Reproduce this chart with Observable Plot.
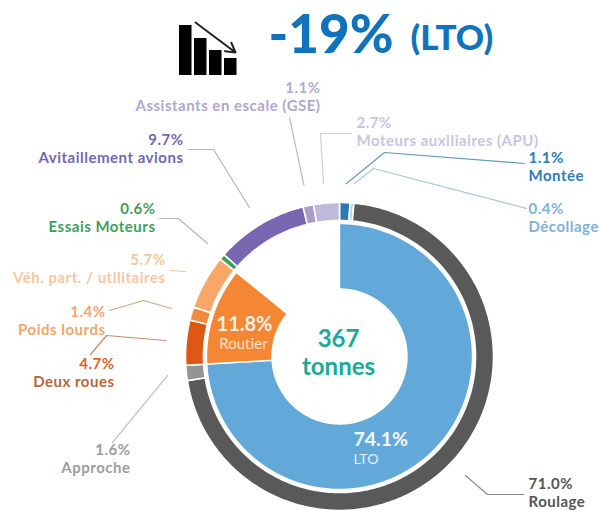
<!DOCTYPE html>
<html>
<head>
<meta charset="utf-8">
<style>html,body{margin:0;padding:0;background:#fff}.lab text{letter-spacing:.5px}</style>
<script src="https://cdn.jsdelivr.net/npm/d3@7"></script>
<script src="https://cdn.jsdelivr.net/npm/@observablehq/plot@0.6"></script>
</head>
<body>
<div id="chart"></div>
<script>
// Outer ring, clockwise from 12 o'clock (% of total)
const outerNames  = ["Montée","Décollage","Roulage","Approche","Deux roues","Poids lourds","Véh. part. / utilitaires","Essais Moteurs","Avitaillement avions","Assistants en escale (GSE)","Moteurs auxiliaires (APU)"];
const outerValues = [1.1,0.4,71.0,1.6,4.7,1.4,5.7,0.6,9.7,1.1,2.7];
const outerColors = ["#2B78B4","#B4D6EC","#595959","#949494","#DD5812","#F08A3C","#F7A768","#3E9F5C","#7766B0","#A79DCB","#BFB9DC"];
// Inner ring
const innerNames  = ["LTO","Routier"];
const innerValues = [74.1,11.8];
const innerColors = ["#62A8D8","#F58634"];
// Icon
const iconBars = [50,37,25,17];

// Layout
const C = {x:339, y:356};
const ringR = [136,154], innerR = [67.5,133];
const polar = (pct,r) => { const a = pct/100*2*Math.PI; return {x:C.x+r*Math.sin(a), y:C.y-r*Math.cos(a)}; };
function slices(names, values, [r0,r1]) {
  const pts = []; let acc = 0;
  names.forEach((name,i) => {
    const a0 = acc, a1 = acc + values[i], n = Math.max(2, Math.ceil(values[i]*3.6));
    for (let k=0;k<=n;k++) pts.push({name, ...polar(a0+(a1-a0)*k/n, r1)});
    for (let k=n;k>=0;k--) pts.push({name, ...polar(a0+(a1-a0)*k/n, r0)});
    acc = a1;
  });
  return pts;
}
// label table: value, name, anchor, x, y(value line), y(name line), colours
const labels = [
  ["1.1%","Assistants en escale (GSE)","end",320,87.5,105.5,"#B0ABD0","#AEA8CF"],
  ["2.7%","Moteurs auxiliaires (APU)","start",356,122.5,140.5,"#C9C5E0","#C9C5E0"],
  ["1.1%","Montée","start",528,158,176,"#2B7DB8","#2B7DB8"],
  ["0.4%","Décollage","start",528,208.5,226.5,"#7FB2D9","#7FB2D9"],
  ["9.7%","Avitaillement avions","end",183,139.5,157.5,"#7468AE","#7468AE"],
  ["0.6%","Essais Moteurs","end",155,208.5,226.5,"#3E9F5C","#3E9F5C"],
  ["5.7%","Véh. part. / utilitaires","end",165,260,278,"#F6C79F","#F6C79F"],
  ["1.4%","Poids lourds","end",105,312,330,"#F3A56E","#F3A56E"],
  ["4.7%","Deux roues","end",114,364,382,"#D9622B","#B5673A"],
  ["1.6%","Approche","end",130,450,468,"#9C9C9C","#9C9C9C"],
  ["71.0%","Roulage","start",528,484,502,"#555555","#555555"]
].flatMap(([v,n,anchor,x,y1,y2,c1,c2]) => [{t:v,anchor,x,y:y1,c:c1},{t:n,anchor,x,y:y2,c:c2}]);

const leaders = [
  {c:"#BDBDBD",p:[[289,117],[303.5,185]]},
  {c:"#CFCFCF",p:[[351,133],[320,133],[323,183]]},
  {c:"#5D9DB8",p:[[524,163],[384,152],[346,183]]},
  {c:"#A4C6D8",p:[[526,208],[373,168],[354,183]]},
  {c:"#B5B5B5",p:[[187.5,149],[213,149],[249,207]]},
  {c:"#B5B5B5",p:[[159,218],[178,218],[207,243]]},
  {c:"#E8C9B0",p:[[170,270],[185,271]]},
  {c:"#D8A688",p:[[109,310],[143,300],[171,308]]},
  {c:"#C98A68",p:[[90,354],[106,335],[165,340]]},
  {c:"#C4C4C4",p:[[112,442],[167,375]]},
  {c:"#8C8C8C",p:[[465,475],[487,494],[523,494]]}
].flatMap((l,i) => l.p.map(([x,y]) => ({id:i,c:l.c,x,y})));

const iconX = [179,194,209,224];
const iconBase = 75;
const bars = iconBars.map((h,i) => ({x1:iconX[i],x2:iconX[i]+12.5,y1:iconBase-h,y2:iconBase}));

const idFill = {value:d=>d.c, scale:null};
const F = "Lato, 'Noto Sans', sans-serif";
const plot = Plot.plot({
  width:600, height:510, margin:0, style:{background:"#fff",fontFamily:F},
  x:{axis:null,domain:[0,600],range:[0,600]},
  y:{axis:null,domain:[0,510],range:[0,510]},
  color:{domain:[...outerNames,...innerNames],range:[...outerColors,...innerColors]},
  marks:[
    Plot.line(slices(outerNames,outerValues,ringR),{x:"x",y:"y",z:"name",fill:"name",stroke:"#fff",strokeWidth:1.6,curve:"linear-closed"}),
    Plot.line(slices(innerNames,innerValues,innerR),{x:"x",y:"y",z:"name",fill:"name",stroke:"#fff",strokeWidth:1.4,curve:"linear-closed"}),
    Plot.line(leaders,{x:"x",y:"y",z:"id",stroke:{value:d=>d.c,scale:null},strokeWidth:1.2}),
    Plot.text(labels.filter(d=>d.anchor==="end"),{x:"x",y:"y",text:"t",fill:idFill,textAnchor:"end",fontSize:15,fontWeight:700,fontFamily:F,className:"lab"}),
    Plot.text(labels.filter(d=>d.anchor==="start"),{x:"x",y:"y",text:"t",fill:idFill,textAnchor:"start",fontSize:15,fontWeight:700,fontFamily:F,className:"lab"}),
    // centre & inner labels
    Plot.text([{x:C.x-1,y:339,t:"367"},{x:C.x-1,y:367,t:"tonnes"}],{x:"x",y:"y",text:"t",fill:"#1BAA9A",fontSize:24,fontWeight:700,fontFamily:F}),
    Plot.text([{x:244,y:324,t:"11.8%"}],{x:"x",y:"y",text:"t",fill:"#FDF1E6",fontSize:20,fontWeight:700,fontFamily:F}),
    Plot.text([{x:243,y:344,t:"Routier"}],{x:"x",y:"y",text:"t",fill:"#FBE3CE",fontSize:15,fontFamily:F}),
    Plot.text([{x:353,y:439,t:"74.1%"}],{x:"x",y:"y",text:"t",fill:"#F4F9FD",textAnchor:"start",fontSize:19.5,fontWeight:700,fontFamily:F}),
    Plot.text([{x:353,y:459,t:"LTO"}],{x:"x",y:"y",text:"t",fill:"#E6F1F9",textAnchor:"start",fontSize:14,fontFamily:F}),
    // title
    Plot.text([{x:268,y:36,t:"-19%"}],{x:"x",y:"y",text:"t",fill:"#1073BB",textAnchor:"start",fontSize:53,fontWeight:900,fontFamily:F}),
    Plot.text([{x:410,y:38,t:"(LTO)"}],{x:"x",y:"y",text:"t",fill:"#1073BB",textAnchor:"start",fontSize:35,fontWeight:900,fontFamily:F}),
    // icon
    Plot.rect(bars,{x1:"x1",x2:"x2",y1:"y1",y2:"y2",fill:"#000"}),
    Plot.arrow([{x1:195,y1:22,x2:235,y2:52}],{x1:"x1",y1:"y1",x2:"x2",y2:"y2",stroke:"#222",strokeWidth:2,headLength:8})
  ]
});
document.getElementById("chart").append(plot);
</script>
</body>
</html>
